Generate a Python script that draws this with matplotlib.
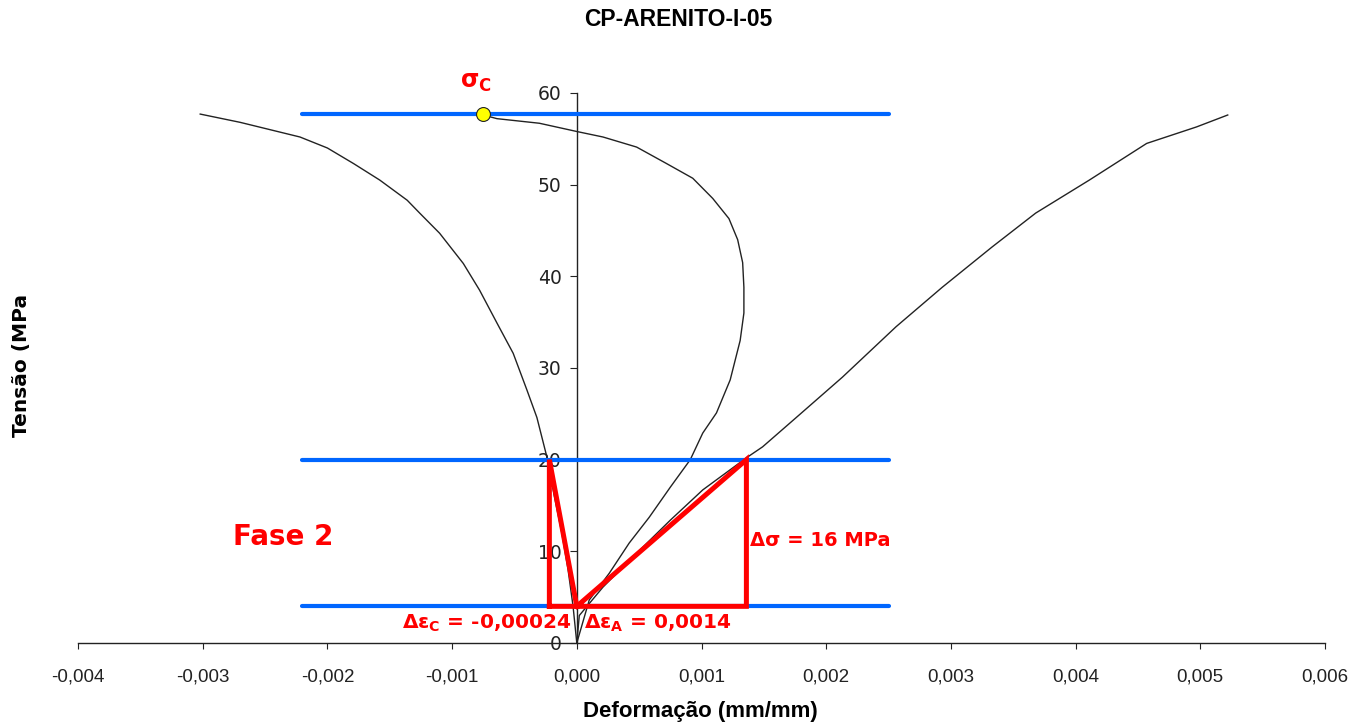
import matplotlib
matplotlib.use("Agg")
import matplotlib.pyplot as plt

plt.rcParams['mathtext.fontset'] = 'custom'
plt.rcParams['mathtext.rm'] = 'DejaVu Sans:bold'
plt.rcParams['mathtext.it'] = 'DejaVu Sans:bold'
plt.rcParams['mathtext.bf'] = 'DejaVu Sans:bold'

# ---- data ----
axial_x = [0, 0.00002, 0.00021, 0.00048, 0.00075, 0.00101, 0.00136, 0.00149, 0.00176,
           0.00213, 0.00256, 0.00293, 0.00333, 0.00368, 0.00411, 0.00457, 0.00497, 0.00522]
axial_y = [0, 3.0, 6.1, 9.8, 13.4, 16.7, 20.2, 21.4, 24.6,
           29.0, 34.5, 38.8, 43.2, 46.9, 50.5, 54.5, 56.3, 57.6]

vol_x = [0, 0.00010, 0.00026, 0.00042, 0.00058, 0.00075, 0.00091, 0.00101, 0.00112,
         0.00123, 0.00131, 0.00134, 0.00134, 0.00133, 0.00129, 0.00122, 0.00109, 0.00093,
         0.00072, 0.00048, 0.00021, 0.0, -0.00030, -0.00064, -0.00075]
vol_y = [0, 4.7, 7.6, 10.9, 13.7, 17.0, 20.0, 22.9, 25.1,
         28.7, 33.0, 36.0, 38.8, 41.5, 44.0, 46.3, 48.5, 50.7,
         52.3, 54.1, 55.2, 55.8, 56.7, 57.2, 57.6]

lat_x = [0, -0.00003, -0.00007, -0.00012, -0.00018, -0.00024, -0.00032, -0.00040, -0.00051,
         -0.00064, -0.00078, -0.00091, -0.00110, -0.00126, -0.00136, -0.00158, -0.00179,
         -0.00200, -0.00222, -0.00270, -0.00302]
lat_y = [0, 4, 8, 12, 16, 20.3, 24.6, 27.6, 31.6,
         34.9, 38.5, 41.4, 44.7, 46.9, 48.3, 50.5, 52.3,
         54.0, 55.2, 56.8, 57.7]

stress_levels = [57.7, 20, 4]
level_xrange = [-0.0022, 0.0025]

sigma_c = (-0.00075, 57.7)
tri_left_x = [-0.00022, -0.00022, 0.0, -0.00022]
tri_left_y = [4, 20, 4, 4]
tri_right_x = [0.0, 0.00136, 0.00136, 0.0]
tri_right_y = [4, 20, 4, 4]

xticks = [-0.004, -0.003, -0.002, -0.001, 0.0, 0.001, 0.002, 0.003, 0.004, 0.005, 0.006]
xticklabels = ['-0,004', '-0,003', '-0,002', '-0,001', '0,000', '0,001', '0,002',
               '0,003', '0,004', '0,005', '0,006']
yticks = [0, 10, 20, 30, 40, 50, 60]

fig = plt.figure(figsize=(13.66, 7.27), dpi=100)
ax = fig.add_axes([78/1366, 1-643/727, (1325-78)/1366, (643-93)/727])

ax.plot(lat_x, lat_y, color='#222222', lw=1.0, zorder=2)
ax.plot(vol_x, vol_y, color='#222222', lw=1.0, zorder=2)
ax.plot(axial_x, axial_y, color='#222222', lw=1.0, zorder=2)

for s in stress_levels:
    ax.plot(level_xrange, [s, s], color='#0066ff', lw=3.0, solid_capstyle='round', zorder=3)

ax.plot(tri_left_x, tri_left_y, color='#ff0000', lw=3.6, solid_joinstyle='miter', zorder=4)
ax.plot(tri_right_x, tri_right_y, color='#ff0000', lw=3.6, solid_joinstyle='miter', zorder=4)

ax.plot([sigma_c[0]], [sigma_c[1]], 'o', ms=10, mfc='#ffff00', mec='#222222', mew=0.8, zorder=5)

ax.set_xlim(-0.004, 0.006)
ax.set_ylim(0, 60)
ax.spines['left'].set_position(('data', 0))
ax.spines['top'].set_visible(False)
ax.spines['right'].set_visible(False)
for sp in ax.spines.values():
    sp.set_color('#222222')
    sp.set_linewidth(1.0)

ax.set_xticks(xticks)
ax.set_xticklabels(xticklabels, fontsize=13.5, family='Liberation Sans', color='#222222')
ax.set_yticks(yticks)
ax.set_yticklabels([str(v) for v in yticks], fontsize=13.5, family='DejaVu Sans', color='#222222')
ax.tick_params(axis='x', direction='out', length=4, pad=14, color='#222222')
ax.tick_params(axis='y', direction='out', length=5, pad=6, color='#222222')

fig.text(678/1366, 1-20/727, 'CP-ARENITO-I-05', ha='center', va='center',
         fontsize=16.5, fontweight='bold', family='Liberation Sans')
fig.text(700/1366, 1-712/727, 'Deformação (mm/mm)', ha='center', va='center',
         fontsize=16, fontweight='bold', family='Liberation Sans')
fig.text(22/1366, 1-365/727, 'Tensão (MPa', ha='center', va='center', rotation=90,
         fontsize=14.5, fontweight='bold', family='DejaVu Sans')

red = '#ff0000'
ax.text(-0.00094, 61.2, 'σ$_C$', color=red, fontsize=17, fontweight='bold',
        family='DejaVu Sans', ha='left', va='center')
ax.text(-0.00276, 11.6, 'Fase 2', color=red, fontsize=20, fontweight='bold',
        family='DejaVu Sans', ha='left', va='center')
ax.text(0.00139, 11.2, 'Δσ = 16 MPa', color=red, fontsize=14, fontweight='bold',
        family='DejaVu Sans', ha='left', va='center')
ax.text(-0.00004, 2.1, 'Δε$_C$ = -0,00024', color=red, fontsize=14.5, fontweight='bold',
        family='DejaVu Sans', ha='right', va='center')
ax.text(0.00006, 2.1, 'Δε$_A$ = 0,0014', color=red, fontsize=14.5, fontweight='bold',
        family='DejaVu Sans', ha='left', va='center')

fig.savefig('out.png', dpi=100)
